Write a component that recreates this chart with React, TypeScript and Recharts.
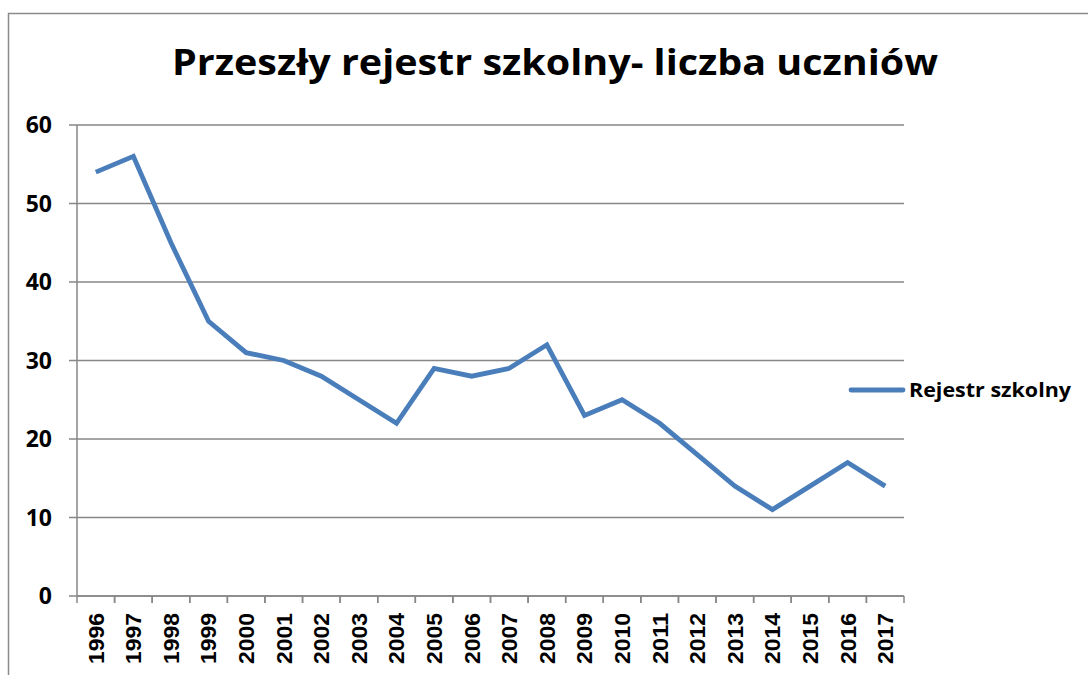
import React from "react";
import { LineChart, Line, XAxis, YAxis, CartesianGrid } from "recharts";

const years = ["1996","1997","1998","1999","2000","2001","2002","2003","2004","2005","2006","2007","2008","2009","2010","2011","2012","2013","2014","2015","2016","2017"];
const rejestr = [54,56,45,35,31,30,28,25,22,29,28,29,32,23,25,22,18,14,11,14,17,14];
const yTicks = [0,10,20,30,40,50,60];
const title = "Przeszły rejestr szkolny- liczba uczniów";
const seriesName = "Rejestr szkolny";

const data = years.map((y, i) => ({ year: y, value: rejestr[i] }));

const W = 1088;
const H = 675;
const M = { top: 125, right: 184, bottom: 0, left: 0 };
const Y_W = 77;
const X_H = 79;
const plotW = W - M.left - M.right - Y_W;
const step = plotW / years.length;
const GRAY = "#878787";
const BLUE = "#4A7EBB";

const XTick = (props: any) => {
  const { x, y, payload } = props;
  const l = x - step / 2;
  const r = x + step / 2;
  return (
    <g>
      <line x1={l} y1={y} x2={l} y2={y + 7} stroke={GRAY} strokeWidth={1.5} />
      <line x1={r} y1={y} x2={r} y2={y + 7} stroke={GRAY} strokeWidth={1.5} />
      <text
        x={x}
        y={y + 17}
        transform={`rotate(-90, ${x}, ${y + 17})`}
        textAnchor="end"
        dy="0.36em"
        fontFamily="'Liberation Sans', Arial, sans-serif"
        fontWeight={700}
        fontSize={22}
        textLength={51}
        lengthAdjust="spacingAndGlyphs"
        fill="#000"
      >
        {payload.value}
      </text>
    </g>
  );
};

export default function App() {
  return (
    <div style={{ position: "absolute", left: 0, top: 0, width: W, height: H, background: "#fff", overflow: "hidden" }}>
      <LineChart width={W} height={H} data={data} margin={M}>
        <CartesianGrid vertical={false} stroke={GRAY} strokeWidth={1.5} />
        <XAxis
          dataKey="year"
          scale="band"
          interval={0}
          height={X_H}
          tickSize={0}
          tickMargin={0}
          tickLine={false}
          axisLine={{ stroke: GRAY, strokeWidth: 1.5 }}
          tick={<XTick />}
        />
        <YAxis
          width={Y_W}
          domain={[0, 60]}
          ticks={yTicks}
          interval={0}
          tickSize={8}
          tickMargin={17}
          axisLine={{ stroke: GRAY, strokeWidth: 1.5 }}
          tickLine={{ stroke: GRAY, strokeWidth: 1.5 }}
          tick={{ fill: "#000", fontSize: 23, fontWeight: 700, fontFamily: "'Open Sans', sans-serif" }}
        />
        <Line
          type="linear"
          dataKey="value"
          name={seriesName}
          stroke={BLUE}
          strokeWidth={4.8}
          dot={false}
          activeDot={false}
          isAnimationActive={false}
        />
      </LineChart>
      <svg
        width={W}
        height={H}
        style={{ position: "absolute", left: 0, top: 0, pointerEvents: "none" }}
      >
        <rect x={8.5} y={13.5} width={W + 20} height={H + 20} fill="none" stroke="#8a8a8a" strokeWidth={1.5} />
        <text
          x={555}
          y={75}
          textAnchor="middle"
          fontFamily="'Open Sans', sans-serif"
          fontWeight={700}
          fontSize={35}
          textLength={766}
          lengthAdjust="spacingAndGlyphs"
          fill="#000"
        >
          {title}
        </text>
        <line x1={851} y1={390} x2={903} y2={390} stroke={BLUE} strokeWidth={4.8} strokeLinecap="round" />
        <text
          x={909}
          y={397}
          fontFamily="'Open Sans', sans-serif"
          fontWeight={700}
          fontSize={20}
          textLength={162}
          lengthAdjust="spacingAndGlyphs"
          fill="#000"
        >
          {seriesName}
        </text>
      </svg>
    </div>
  );
}
